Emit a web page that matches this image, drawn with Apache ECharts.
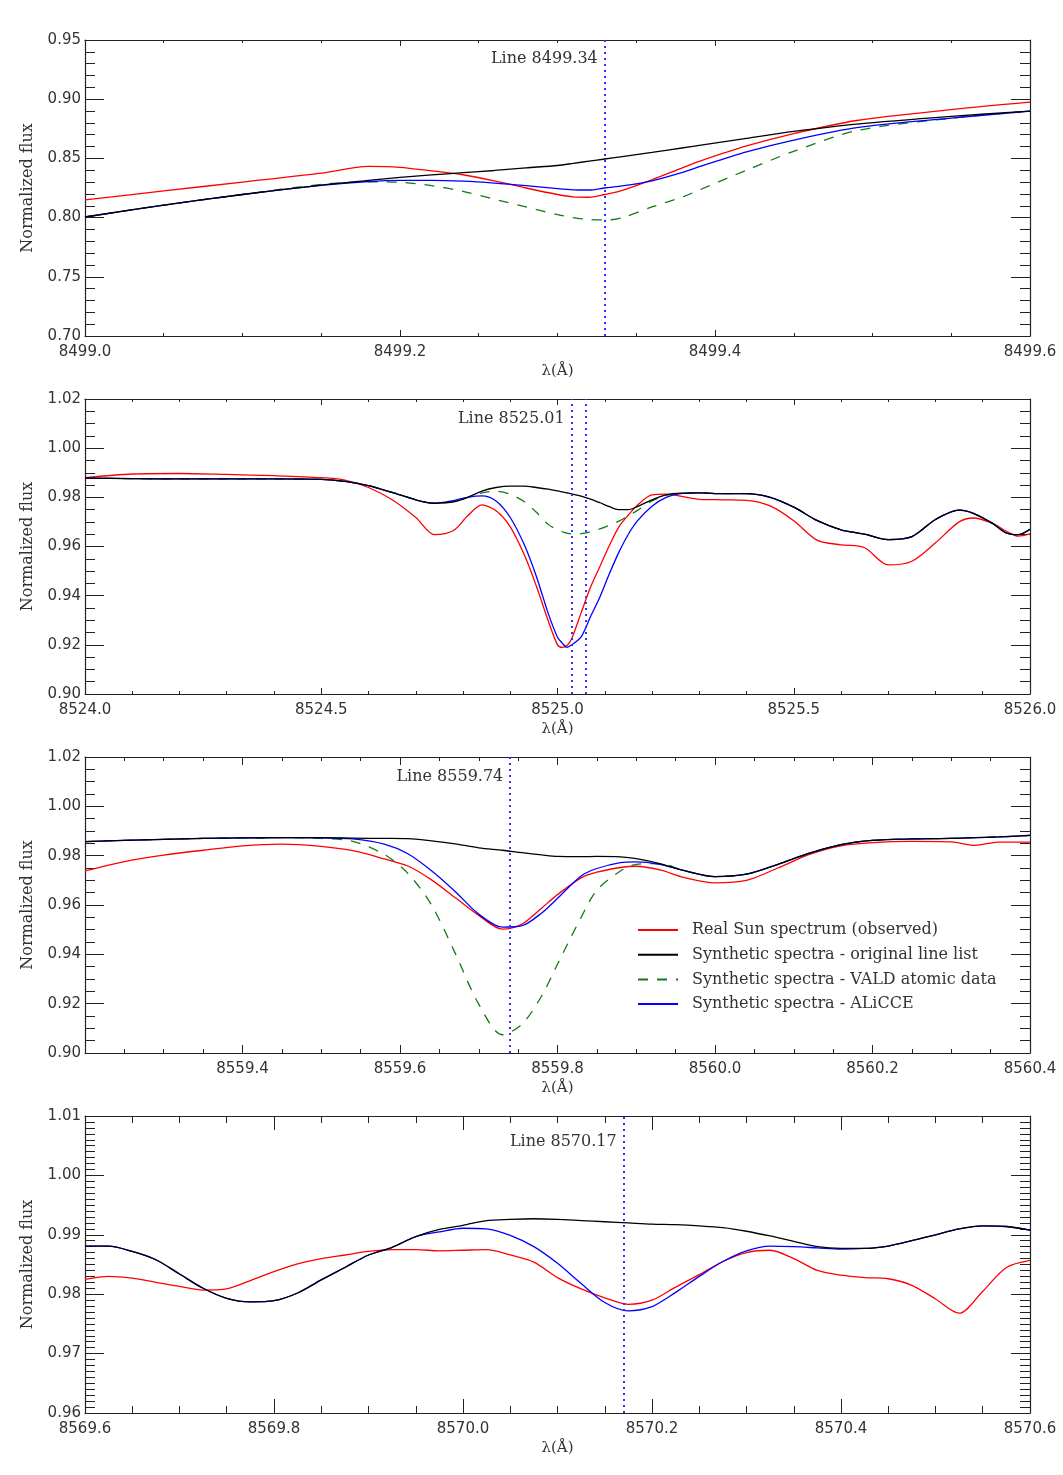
<!DOCTYPE html>
<html>
<head>
<meta charset="utf-8">
<title>Solar line profiles</title>
<script src="https://cdn.jsdelivr.net/npm/echarts@6/dist/echarts.min.js"></script>
<style>
  html, body { margin: 0; padding: 0; background: #fff; }
  #chart { width: 1063px; height: 1475px; }
</style>
</head>
<body>
<div id="chart"></div>
<script>
// series names, in legend order
const seriesNames = [
  'Real Sun spectrum (observed)',
  'Synthetic spectra - original line list',
  'Synthetic spectra - VALD atomic data',
  'Synthetic spectra - ALiCCE'
]
const lineLabels = ['Line 8499.34', 'Line 8525.01', 'Line 8559.74', 'Line 8570.17']

// panel 1 : 8499.0 - 8499.6
const p1XAxis = [8499.0, 8499.6, 0.2]
const p1YAxis = [0.70, 0.95, 0.05]
const p1Marks = [8499.33]
const p1Wave = [8499.00, 8499.05, 8499.10, 8499.15, 8499.18, 8499.20, 8499.22, 8499.24, 8499.26, 8499.28,
  8499.30, 8499.31, 8499.32, 8499.33, 8499.34, 8499.36, 8499.38, 8499.39, 8499.42, 8499.45, 8499.49, 8499.55, 8499.60]
const p1Red = [0.8150, 0.8225, 0.8300, 0.8375, 0.8433, 0.8425, 0.8395, 0.8362, 0.8310, 0.8250,
  0.8195, 0.8175, 0.8172, 0.8195, 0.8225, 0.8320, 0.8425, 0.8475, 0.8605, 0.8710, 0.8820, 0.8912, 0.8975]
const p1Orig = [0.8005, 0.8105, 0.8195, 0.8275, 0.8315, 0.8340, 0.8360, 0.8380, 0.8398, 0.8420,
  0.8440, 0.8458, 0.8477, 0.8495, 0.8513, 0.8550, 0.8590, 0.8610, 0.8670, 0.8728, 0.8790, 0.8855, 0.8900]
const p1Vald = [0.8005, 0.8105, 0.8195, 0.8280, 0.8303, 0.8298, 0.8270, 0.8222, 0.8155, 0.8090,
  0.8025, 0.8000, 0.7985, 0.7980, 0.7995, 0.8090, 0.8177, 0.8233, 0.8400, 0.8560, 0.8735, 0.8840, 0.8900]
const p1Alicce = [0.8005, 0.8105, 0.8195, 0.8272, 0.8305, 0.8315, 0.8315, 0.8308, 0.8292, 0.8270,
  0.8245, 0.8235, 0.8233, 0.8250, 0.8265, 0.8310, 0.8385, 0.8430, 0.8555, 0.8655, 0.8760, 0.8840, 0.8900]

// panel 2 : 8524.0 - 8526.0
const p2XAxis = [8524.0, 8526.0, 0.5]
const p2YAxis = [0.90, 1.02, 0.02]
const p2Marks = [8525.03, 8525.06]
const p2Wave = [8524.00, 8524.10, 8524.20, 8524.30, 8524.40, 8524.50, 8524.55, 8524.60, 8524.65, 8524.70,
  8524.74, 8524.78, 8524.81, 8524.84, 8524.87, 8524.90, 8524.93, 8524.955, 8524.98, 8525.00,
  8525.01, 8525.02, 8525.03, 8525.05, 8525.07, 8525.09, 8525.11, 8525.13, 8525.15, 8525.17,
  8525.20, 8525.23, 8525.26, 8525.30, 8525.35, 8525.40, 8525.45, 8525.50, 8525.55, 8525.60,
  8525.65, 8525.70, 8525.75, 8525.80, 8525.85, 8525.88, 8525.92, 8525.95, 8525.975, 8526.00]
const p2Red = [0.9880, 0.9895, 0.9897, 0.9893, 0.9888, 0.9880, 0.9870, 0.9840, 0.9790, 0.9718,
  0.9648, 0.9665, 0.9725, 0.9769, 0.9745, 0.9680, 0.9565, 0.9440, 0.9300, 0.9200,
  0.9190, 0.9197, 0.9225, 0.9330, 0.9435, 0.9520, 0.9605, 0.9680, 0.9728, 0.9770,
  0.9810, 0.9813, 0.9805, 0.9792, 0.9790, 0.9788, 0.9765, 0.9705, 0.9625, 0.9607,
  0.9595, 0.9525, 0.9540, 0.9615, 0.9700, 0.9716, 0.9695, 0.9662, 0.9642, 0.9651]
const p2Orig = [0.9878, 0.9876, 0.9875, 0.9875, 0.9875, 0.9873, 0.9865, 0.9848, 0.9820, 0.9790,
  0.9776, 0.9782, 0.9800, 0.9825, 0.9840, 0.9846, 0.9846, 0.9840, 0.9833, 0.9826,
  0.9822, 0.9818, 0.9814, 0.9805, 0.9793, 0.9778, 0.9762, 0.9750, 0.9750, 0.9763,
  0.9790, 0.9810, 0.9817, 0.9818, 0.9815, 0.9815, 0.9800, 0.9760, 0.9705, 0.9668,
  0.9650, 0.9628, 0.9640, 0.9710, 0.9748, 0.9735, 0.9695, 0.9655, 0.9648, 0.9670]
const p2Vald = [0.9878, 0.9876, 0.9875, 0.9875, 0.9875, 0.9873, 0.9865, 0.9848, 0.9820, 0.9790,
  0.9776, 0.9782, 0.9800, 0.9818, 0.9825, 0.9812, 0.9782, 0.9740, 0.9690, 0.9668,
  0.9660, 0.9654, 0.9651, 0.9652, 0.9660, 0.9672, 0.9686, 0.9703, 0.9725, 0.9748,
  0.9785, 0.9808, 0.9815, 0.9818, 0.9815, 0.9815, 0.9800, 0.9760, 0.9705, 0.9668,
  0.9650, 0.9628, 0.9640, 0.9710, 0.9748, 0.9735, 0.9695, 0.9655, 0.9648, 0.9670]
const p2Alicce = [0.9878, 0.9876, 0.9875, 0.9875, 0.9875, 0.9873, 0.9865, 0.9848, 0.9820, 0.9790,
  0.9776, 0.9787, 0.9800, 0.9806, 0.9785, 0.9718, 0.9606, 0.9480, 0.9330, 0.9231,
  0.9207, 0.9190, 0.9200, 0.9232, 0.9315, 0.9396, 0.9490, 0.9577, 0.9650, 0.9706,
  0.9764, 0.9800, 0.9815, 0.9818, 0.9815, 0.9815, 0.9800, 0.9760, 0.9705, 0.9668,
  0.9650, 0.9628, 0.9640, 0.9710, 0.9748, 0.9735, 0.9695, 0.9655, 0.9648, 0.9670]

// panel 3 : 8559.2 - 8560.4
const p3XAxis = [8559.2, 8560.4, 0.2]
const p3YAxis = [0.90, 1.02, 0.02]
const p3Marks = [8559.74]
const p3Wave = [8559.20, 8559.25, 8559.30, 8559.35, 8559.40, 8559.45, 8559.50, 8559.54, 8559.58, 8559.61,
  8559.64, 8559.67, 8559.70, 8559.73, 8559.755, 8559.78, 8559.80, 8559.83, 8559.85, 8559.88,
  8559.90, 8559.93, 8559.96, 8560.00, 8560.04, 8560.08, 8560.12, 8560.16, 8560.20, 8560.25,
  8560.30, 8560.33, 8560.36, 8560.40]
const p3Red = [0.9738, 0.9776, 0.9802, 0.9822, 0.9840, 0.9847, 0.9838, 0.9820, 0.9787, 0.9758,
  0.9702, 0.9630, 0.9558, 0.9502, 0.9523, 0.9588, 0.9642, 0.9710, 0.9733, 0.9752,
  0.9757, 0.9742, 0.9712, 0.9690, 0.9700, 0.9750, 0.9805, 0.9840, 0.9853, 0.9858,
  0.9856, 0.9842, 0.9855, 0.9855]
const p3Orig = [0.9857, 0.9862, 0.9866, 0.9870, 0.9872, 0.9873, 0.9873, 0.9871, 0.9870, 0.9869,
  0.9860, 0.9848, 0.9832, 0.9822, 0.9812, 0.9803, 0.9797, 0.9796, 0.9797, 0.9795,
  0.9788, 0.9768, 0.9740, 0.9715, 0.9725, 0.9765, 0.9810, 0.9845, 0.9862, 0.9868,
  0.9870, 0.9873, 0.9876, 0.9882]
const p3Vald = [0.9857, 0.9862, 0.9866, 0.9870, 0.9872, 0.9873, 0.9870, 0.9858, 0.9805, 0.9728,
  0.9600, 0.9405, 0.9198, 0.9074, 0.9117, 0.9232, 0.9360, 0.9550, 0.9660, 0.9738,
  0.9765, 0.9768, 0.9740, 0.9715, 0.9725, 0.9765, 0.9810, 0.9845, 0.9862, 0.9868,
  0.9870, 0.9873, 0.9876, 0.9882]
const p3Alicce = [0.9857, 0.9862, 0.9866, 0.9870, 0.9872, 0.9873, 0.9872, 0.9868, 0.9847, 0.9808,
  0.9739, 0.9655, 0.9563, 0.9510, 0.9516, 0.9568, 0.9627, 0.9718, 0.9748, 0.9772,
  0.9775, 0.9765, 0.9740, 0.9715, 0.9725, 0.9765, 0.9810, 0.9845, 0.9862, 0.9868,
  0.9870, 0.9873, 0.9876, 0.9882]

// panel 4 : 8569.6 - 8570.6
const p4XAxis = [8569.6, 8570.6, 0.2]
const p4YAxis = [0.96, 1.01, 0.01]
const p4Marks = [8570.17]
const p4Wave = [8569.600, 8569.625, 8569.650, 8569.675, 8569.700, 8569.725, 8569.750, 8569.775, 8569.800, 8569.825,
  8569.850, 8569.875, 8569.900, 8569.925, 8569.950, 8569.975, 8570.000, 8570.025, 8570.050, 8570.075,
  8570.100, 8570.125, 8570.150, 8570.175, 8570.200, 8570.225, 8570.250, 8570.275, 8570.300, 8570.325,
  8570.350, 8570.375, 8570.400, 8570.425, 8570.450, 8570.475, 8570.500, 8570.525, 8570.550, 8570.575,
  8570.600]
const p4Red = [0.9825, 0.9830, 0.9827, 0.9820, 0.9813, 0.9807, 0.9809, 0.9823, 0.9838, 0.9851,
  0.9860, 0.9866, 0.9872, 0.9875, 0.9875, 0.9873, 0.9874, 0.9875, 0.9866, 0.9854,
  0.9828, 0.9809, 0.9794, 0.9783, 0.9790, 0.9812, 0.9833, 0.9855, 0.9870, 0.9874,
  0.9860, 0.9840, 0.9832, 0.9828, 0.9826, 0.9815, 0.9792, 0.9768, 0.9805, 0.9845,
  0.9857]
const p4Orig = [0.9881, 0.9881, 0.9872, 0.9858, 0.9834, 0.9810, 0.9793, 0.9787, 0.9789, 0.9802,
  0.9824, 0.9845, 0.9866, 0.9879, 0.9897, 0.9909, 0.9916, 0.9924, 0.9926, 0.9927,
  0.9926, 0.9924, 0.9922, 0.9920, 0.9918, 0.9917, 0.9915, 0.9912, 0.9906, 0.9898,
  0.9889, 0.9880, 0.9877, 0.9877, 0.9881, 0.9890, 0.9900, 0.9910, 0.9915, 0.9914,
  0.9908]
const p4Alicce = [0.9881, 0.9881, 0.9872, 0.9858, 0.9834, 0.9810, 0.9793, 0.9787, 0.9789, 0.9802,
  0.9824, 0.9845, 0.9866, 0.9879, 0.9897, 0.9905, 0.9911, 0.9910, 0.9899, 0.9880,
  0.9852, 0.9818, 0.9786, 0.9772, 0.9779, 0.9803, 0.9830, 0.9855, 0.9873, 0.9881,
  0.9880, 0.9878, 0.9876, 0.9877, 0.9881, 0.9890, 0.9900, 0.9910, 0.9915, 0.9914,
  0.9908]

const panels = [
  { wave: p1Wave, red: p1Red, orig: p1Orig, vald: p1Vald, alicce: p1Alicce, x: p1XAxis, y: p1YAxis, marks: p1Marks,
    top: 40, height: 296, xMinor: 4, yMinor: 5, xTick: [6, 3], textDy: 19 },
  { wave: p2Wave, red: p2Red, orig: p2Orig, vald: p2Vald, alicce: p2Alicce, x: p2XAxis, y: p2YAxis, marks: p2Marks,
    top: 399, height: 295, xMinor: 5, yMinor: 4, xTick: [6, 3], textDy: 20 },
  { wave: p3Wave, red: p3Red, orig: p3Orig, vald: p3Vald, alicce: p3Alicce, x: p3XAxis, y: p3YAxis, marks: p3Marks,
    top: 757, height: 296, xMinor: 4, yMinor: 4, xTick: [8, 4], textDy: 20, hideMin: true },
  { wave: p4Wave, red: p4Red, orig: p4Orig, vald: null, alicce: p4Alicce, x: p4XAxis, y: p4YAxis, marks: p4Marks,
    top: 1116, height: 297, xMinor: 4, yMinor: 10, xTick: [14, 7], textDy: 26 }
]

const serif = 'DejaVu Serif'
const sans = 'DejaVu Sans'
const axisColor = '#222'
const textColor = '#333'

function pairs(xs, ys) {
  return xs.map((x, i) => [x, ys[i]])
}

const grid = []
const xAxis = []
const yAxis = []
const series = []

panels.forEach((p, i) => {
  grid.push({ left: 85, right: 33, top: p.top, height: p.height })

  const xBase = {
    type: 'value', gridIndex: i, min: p.x[0], max: p.x[1], interval: p.x[2],
    axisLine: { show: true, onZero: false, lineStyle: { color: axisColor, width: 1.2 } },
    axisTick: { show: true, inside: true, length: p.xTick[0], lineStyle: { color: axisColor } },
    minorTick: { show: true, splitNumber: p.xMinor, length: p.xTick[1], lineStyle: { color: axisColor } },
    splitLine: { show: false }
  }
  xAxis.push(Object.assign({}, xBase, {
    position: 'bottom',
    name: 'λ(Å)', nameLocation: 'middle', nameGap: 28,
    nameTextStyle: { fontFamily: serif, fontSize: 15, color: textColor },
    axisLabel: {
      show: true, margin: 9, fontFamily: sans, fontSize: 15, color: textColor,
      showMinLabel: !p.hideMin,
      formatter: v => v.toFixed(1)
    }
  }))
  xAxis.push(Object.assign({}, xBase, { position: 'top', axisLabel: { show: false } }))

  const yBase = {
    type: 'value', gridIndex: i, min: p.y[0], max: p.y[1], interval: p.y[2],
    axisLine: { show: true, onZero: false, lineStyle: { color: axisColor, width: 1.2 } },
    axisTick: { show: true, inside: true, length: 19, lineStyle: { color: axisColor } },
    minorTick: { show: true, splitNumber: p.yMinor, length: 10, lineStyle: { color: axisColor } },
    splitLine: { show: false }
  }
  yAxis.push(Object.assign({}, yBase, {
    position: 'left',
    name: 'Normalized flux', nameLocation: 'middle', nameGap: 49, nameRotate: 90,
    nameTextStyle: { fontFamily: serif, fontSize: 16, color: textColor },
    axisLabel: {
      show: true, margin: 4, fontFamily: sans, fontSize: 15, color: textColor,
      formatter: v => v.toFixed(2)
    }
  }))
  yAxis.push(Object.assign({}, yBase, { position: 'right', axisLabel: { show: false } }))

  const xi = i * 2
  const yi = i * 2
  const common = {
    type: 'line', xAxisIndex: xi, yAxisIndex: yi,
    symbol: 'none', showSymbol: false, smooth: 0.3, animation: false
  }
  series.push(Object.assign({}, common, {
    name: seriesNames[0], data: pairs(p.wave, p.red),
    lineStyle: { color: '#ff0000', width: 1.3 }, itemStyle: { color: '#ff0000' }
  }))
  if (p.vald) {
    series.push(Object.assign({}, common, {
      name: seriesNames[2], data: pairs(p.wave, p.vald),
      lineStyle: { color: '#137a13', width: 1.3, type: [10, 9] }, itemStyle: { color: '#137a13' }
    }))
  }
  series.push(Object.assign({}, common, {
    name: seriesNames[3], data: pairs(p.wave, p.alicce),
    lineStyle: { color: '#0000ff', width: 1.3 }, itemStyle: { color: '#0000ff' }
  }))
  series.push(Object.assign({}, common, {
    name: seriesNames[1], data: pairs(p.wave, p.orig),
    lineStyle: { color: '#000000', width: 1.3 }, itemStyle: { color: '#000000' },
    markLine: {
      silent: true, symbol: ['none', 'none'], animation: false,
      label: { show: false },
      lineStyle: { color: '#3030ff', width: 2, type: [2, 4] },
      data: p.marks.map(v => ({ xAxis: v }))
    },
    markPoint: {
      silent: true, symbol: 'circle', symbolSize: 0, animation: false,
      label: {
        show: true, position: 'left', distance: 7, offset: [0, p.textDy],
        fontFamily: serif, fontSize: 16, color: textColor
      },
      data: [{ coord: [p.marks[0], p.y[1]], value: lineLabels[i], label: { formatter: lineLabels[i] } }]
    }
  }))
})

const chart = echarts.init(document.getElementById('chart'))
chart.setOption({
  backgroundColor: '#ffffff',
  animation: false,
  legend: {
    orient: 'vertical',
    left: 637,
    top: 922,
    padding: 0,
    itemWidth: 40,
    itemHeight: 14,
    itemGap: 8.7,
    selectedMode: false,
    itemStyle: { opacity: 0 },
    data: [seriesNames[0], seriesNames[1], seriesNames[2], seriesNames[3]],
    textStyle: { fontFamily: serif, fontSize: 16, color: textColor, padding: [0, 0, 0, 9] }
  },
  grid: grid,
  xAxis: xAxis,
  yAxis: yAxis,
  series: series
})
</script>
</body>
</html>
